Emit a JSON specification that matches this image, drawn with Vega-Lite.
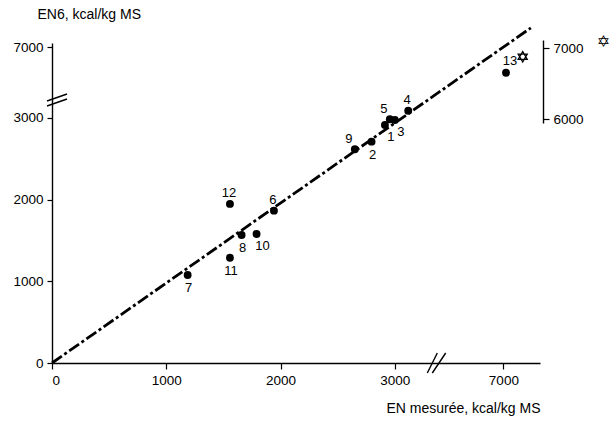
{
  "$schema": "https://vega.github.io/schema/vega-lite/v6.json",
  "autosize": {"type": "none"},
  "width": 488,
  "height": 320,
  "padding": {"left": 52, "top": 43, "right": 69, "bottom": 58},
  "background": "white",
  "config": {
    "view": {"stroke": null},
    "axis": {
      "grid": false,
      "domainColor": "black",
      "tickColor": "black",
      "labelColor": "black",
      "titleColor": "black",
      "labelFont": "Liberation Sans",
      "titleFont": "Liberation Sans",
      "labelFontSize": 13.5,
      "titleFontSize": 14,
      "titleFontWeight": "normal",
      "tickSize": 5,
      "domainWidth": 1.4,
      "tickWidth": 1.2
    },
    "text": {"font": "Liberation Sans"}
  },
  "datasets": {
    "points": [
      {"id": 1, "x": 2913, "y": 2914},
      {"id": 2, "x": 2796, "y": 2710},
      {"id": 3, "x": 3000, "y": 2975},
      {"id": 4, "x": 3117, "y": 3089},
      {"id": 5, "x": 2956, "y": 2984},
      {"id": 6, "x": 1942, "y": 1865},
      {"id": 7, "x": 1187, "y": 1077},
      {"id": 8, "x": 1659, "y": 1567},
      {"id": 9, "x": 2650, "y": 2617},
      {"id": 10, "x": 1790, "y": 1580},
      {"id": 11, "x": 1557, "y": 1289},
      {"id": 12, "x": 1557, "y": 1948},
      {"id": 13, "x": 7023, "y": 6691}
    ],
    "star": [{"x": 7169, "y": 6877}],
    "identity": [{"x": 0, "y": 0}, {"x": 7240, "y": 7240}],
    "breaks": [
      {"axis": "x", "x": 3365, "y": 0},
      {"axis": "y", "x": 44, "y": 3225}
    ]
  },
  "layer": [
    {
      "encoding": {
        "x": {
          "field": "x",
          "type": "quantitative",
          "scale": {"domain": [0, 3360, 6420, 7320], "range": [0, 384, 385, 488], "nice": false, "zero": false},
          "axis": {
            "values": [0, 1000, 2000, 3000, 7000],
            "format": "d",
            "title": "EN mesurée, kcal/kg MS",
            "titleAnchor": "end",
            "titleAlign": "right",
            "titleX": 488,
            "titleY": 45,
            "titleBaseline": "middle",
            "labelPadding": 4,
            "tickSize": 6
          }
        },
        "y": {
          "field": "y",
          "type": "quantitative",
          "scale": {"domain": [0, 3220, 6370, 7055], "range": [320, 57, 56, 0], "nice": false, "zero": false},
          "axis": {
            "values": [0, 1000, 2000, 3000, 7000],
            "format": "d",
            "title": "EN6, kcal/kg MS",
            "titleAngle": 0,
            "titleAlign": "left",
            "titleX": -15,
            "titleY": -29,
            "titleBaseline": "middle",
            "labelPadding": 4
          }
        }
      },
      "layer": [
        {
          "data": {"name": "identity"},
          "mark": {"type": "line", "color": "black", "strokeWidth": 2.8, "strokeDash": [12, 3, 3, 3], "clip": false},
          "encoding": {}
        },
        {
          "data": {"name": "breaks"},
          "transform": [{"filter": "datum.axis === 'x'"}],
          "mark": {"type": "point", "shape": "M-0.87,1L0.13,-1M-0.37,1L0.97,-1", "size": 400, "filled": false, "stroke": "black", "strokeWidth": 1.4, "opacity": 1}
        },
        {
          "data": {"name": "breaks"},
          "transform": [{"filter": "datum.axis === 'y'"}],
          "mark": {"type": "point", "shape": "M-1,0.1L1,-0.6M-1,0.6L1,-0.1", "size": 400, "filled": false, "stroke": "black", "strokeWidth": 1.4, "opacity": 1}
        },
        {
          "data": {"name": "points"},
          "mark": {"type": "circle", "size": 62, "color": "black", "opacity": 1}
        },
        {
          "data": {"name": "points"},
          "transform": [{"filter": {"field": "id", "oneOf": [2, 7, 8, 11]}}],
          "mark": {"type": "text", "fontSize": 13, "dx": 1, "dy": 13, "baseline": "middle", "align": "center", "fill": "black"},
          "encoding": {"text": {"field": "id"}}
        },
        {
          "data": {"name": "points"},
          "transform": [{"filter": {"field": "id", "oneOf": [1, 3, 10]}}],
          "mark": {"type": "text", "fontSize": 13, "dx": 6, "dy": 12, "baseline": "middle", "align": "center", "fill": "black"},
          "encoding": {"text": {"field": "id"}}
        },
        {
          "data": {"name": "points"},
          "transform": [{"filter": {"field": "id", "oneOf": [4, 6, 12]}}],
          "mark": {"type": "text", "fontSize": 13, "dx": -1, "dy": -11, "baseline": "middle", "align": "center", "fill": "black"},
          "encoding": {"text": {"field": "id"}}
        },
        {
          "data": {"name": "points"},
          "transform": [{"filter": {"field": "id", "oneOf": [5, 9]}}],
          "mark": {"type": "text", "fontSize": 13, "dx": -6, "dy": -10, "baseline": "middle", "align": "center", "fill": "black"},
          "encoding": {"text": {"field": "id"}}
        },
        {
          "data": {"name": "points"},
          "transform": [{"filter": {"field": "id", "oneOf": [13]}}],
          "mark": {"type": "text", "fontSize": 13, "dx": 4, "dy": -12, "baseline": "middle", "align": "center", "fill": "black"},
          "encoding": {"text": {"field": "id"}}
        }
      ]
    },
    {
      "data": {"name": "star"},
      "mark": {"type": "point", "shape": "M0,-1L0.866,0.5L-0.866,0.5ZM0,1L0.866,-0.5L-0.866,-0.5Z", "size": 110, "filled": true, "fill": "white", "stroke": "black", "strokeWidth": 1.3, "opacity": 1},
      "encoding": {
        "x": {
          "field": "x",
          "type": "quantitative",
          "scale": {"domain": [0, 3360, 6420, 7320], "range": [0, 384, 385, 488], "nice": false, "zero": false}
        },
        "y": {
          "field": "y",
          "type": "quantitative",
          "scale": {"domain": [5944, 7113], "range": [80, -3], "nice": false, "zero": false},
          "axis": {
            "orient": "right",
            "values": [6000, 7000],
            "format": "d",
            "offset": 3,
            "title": "✡",
            "titleAngle": 0,
            "titleX": 60,
            "titleY": -2,
            "titleAlign": "center",
            "titleBaseline": "middle",
            "titleFont": "DejaVu Sans",
            "titleFontSize": 16,
            "labelPadding": 4,
            "tickSize": 6
          }
        }
      }
    }
  ],
  "resolve": {"scale": {"y": "independent"}, "axis": {"y": "independent"}}
}
